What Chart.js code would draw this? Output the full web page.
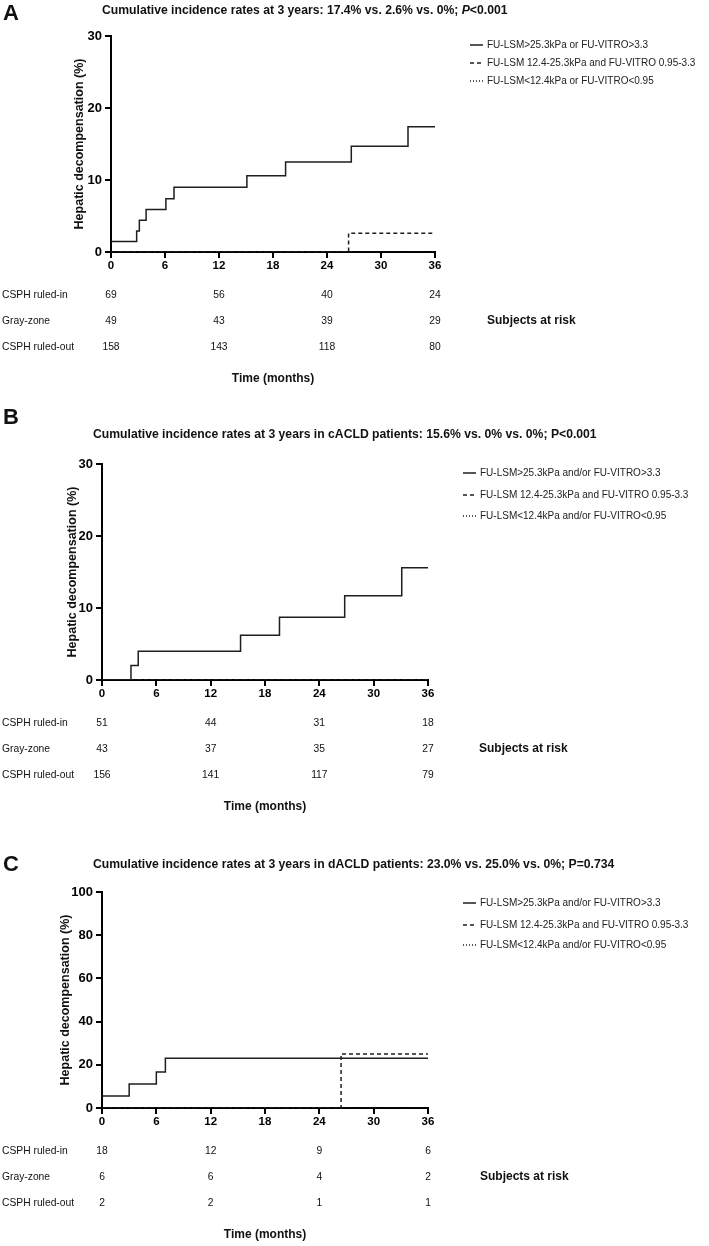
<!DOCTYPE html>
<html><head><meta charset="utf-8">
<script src="https://cdn.jsdelivr.net/npm/chart.js@4.4.1/dist/chart.umd.min.js"></script>
<style>
html,body{margin:0;padding:0;background:#fff;}
#wrap{position:relative;width:709px;height:1246px;overflow:hidden;background:#fff;}
canvas{position:absolute;left:0;}
</style></head><body>
<div id="wrap">
<canvas id="cA" width="709" height="400" style="top:0px"></canvas>
<canvas id="cB" width="709" height="430" style="top:400px"></canvas>
<canvas id="cC" width="709" height="416" style="top:830px"></canvas>
</div>
<script>
// ---------- data ----------
const riskTimes = [0, 12, 24, 36];
const riskGroups = ['CSPH ruled-in', 'Gray-zone', 'CSPH ruled-out'];
const yAxisTitle = 'Hepatic decompensation (%)';

// Panel A
const legendA = ['FU-LSM>25.3kPa or FU-VITRO>3.3', 'FU-LSM 12.4-25.3kPa and FU-VITRO 0.95-3.3', 'FU-LSM<12.4kPa or FU-VITRO<0.95'];
const aHighT = [0, 2.85, 3.15, 3.9, 6.1, 7.0, 15.1, 19.4, 26.7, 33.0, 36];
const aHighV = [1.45, 2.9, 4.4, 5.9, 7.4, 9.0, 10.6, 12.5, 14.7, 17.4, 17.4];
const aGrayT = [0, 26.4, 36];
const aGrayV = [0, 2.6, 2.6];
const aLowT = [0, 36];
const aLowV = [0, 0];
const aRiskIn = [69, 56, 40, 24];
const aRiskGray = [49, 43, 39, 29];
const aRiskOut = [158, 143, 118, 80];

// Panel B
const legendBC = ['FU-LSM>25.3kPa and/or FU-VITRO>3.3', 'FU-LSM 12.4-25.3kPa and FU-VITRO 0.95-3.3', 'FU-LSM<12.4kPa and/or FU-VITRO<0.95'];
const bHighT = [0, 3.2, 4.0, 15.3, 19.6, 26.8, 33.1, 36];
const bHighV = [0, 2.0, 4.0, 6.2, 8.7, 11.7, 15.6, 15.6];
const bGrayT = [0, 36];
const bGrayV = [0, 0];
const bLowT = [0, 36];
const bLowV = [0, 0];
const bRiskIn = [51, 44, 31, 18];
const bRiskGray = [43, 37, 35, 27];
const bRiskOut = [156, 141, 117, 79];

// Panel C
const cHighT = [0, 3.0, 6.0, 7.0, 36];
const cHighV = [5.6, 11.1, 16.7, 23.0, 23.0];
const cGrayT = [0, 26.4, 36];
const cGrayV = [0, 25.0, 25.0];
const cLowT = [0, 36];
const cLowV = [0, 0];
const cRiskIn = [18, 12, 9, 6];
const cRiskGray = [6, 6, 4, 2];
const cRiskOut = [2, 2, 1, 1];

// ---------- helpers ----------
const FONT = '"Liberation Sans", Arial, Helvetica, sans-serif';
const LINE = '#1e1e1e';
function pts(t, v) { return t.map((x, i) => ({ x: x, y: v[i] })); }

const decor = {
  id: 'decor',
  afterDraw(chart, args, o) {
    const ctx = chart.ctx, ca = chart.chartArea, xs = chart.scales.x;
    ctx.save();
    ctx.fillStyle = '#111';
    ctx.textBaseline = 'middle';
    // panel letter
    ctx.textAlign = 'left';
    ctx.font = 'bold 22px ' + FONT;
    ctx.fillText(o.letter, 3, ca.top - o.letterDy);
    // title
    let x = ca.left - 9;
    const ty = ca.top - o.titleDy;
    for (const s of o.title) {
      ctx.font = (s.i ? 'italic ' : '') + 'bold 12.2px ' + FONT;
      ctx.fillText(s.t, x, ty);
      x += ctx.measureText(s.t).width;
    }
    // y axis title
    ctx.save();
    ctx.translate(ca.left - o.yTitleDx, (ca.top + ca.bottom) / 2);
    ctx.rotate(-Math.PI / 2);
    ctx.textAlign = 'center';
    ctx.font = 'bold 12.5px ' + FONT;
    ctx.fillText(yAxisTitle, 0, 0);
    ctx.restore();
    // legend
    chart.data.datasets.forEach((ds, i) => {
      const y = ca.top + o.legendDy[i];
      ctx.save();
      ctx.strokeStyle = ds.borderColor;
      ctx.lineWidth = 1.5;
      ctx.setLineDash(ds.borderDash || []);
      ctx.beginPath();
      ctx.moveTo(ca.right + o.legX, y);
      ctx.lineTo(ca.right + o.legX + 13, y);
      ctx.stroke();
      ctx.restore();
      ctx.textAlign = 'left';
      ctx.font = '10px ' + FONT;
      ctx.fillStyle = '#222';
      ctx.fillText(ds.label, ca.right + o.legX + 17, y);
    });
    // at-risk table
    ctx.fillStyle = '#111';
    ctx.font = '10.3px ' + FONT;
    o.risk.forEach((row, r) => {
      const y = ca.bottom + 43 + r * 26;
      ctx.textAlign = 'left';
      ctx.fillText(riskGroups[r], 2, y);
      ctx.textAlign = 'center';
      row.forEach((v, k) => ctx.fillText(String(v), xs.getPixelForValue(riskTimes[k]), y));
    });
    ctx.font = 'bold 12px ' + FONT;
    ctx.textAlign = 'left';
    ctx.fillText('Subjects at risk', ca.right + o.subX, ca.bottom + 69);
    ctx.textAlign = 'center';
    ctx.fillText('Time (months)', (ca.left + ca.right) / 2, ca.bottom + 127);
    ctx.restore();
  }
};

function makePanel(p) {
  const YW = 40, XH = 30, W = 709;
  const datasets = [
    { label: p.labels[0], data: pts(p.s[0][0], p.s[0][1]), borderDash: [] },
    { label: p.labels[1], data: pts(p.s[1][0], p.s[1][1]), borderDash: [4, 3] },
    { label: p.labels[2], data: pts(p.s[2][0], p.s[2][1]), borderDash: [1, 2] }
  ].map(d => Object.assign(d, {
    stepped: 'before', borderColor: LINE, borderWidth: 1.5, pointRadius: 0,
    pointHitRadius: 0, fill: false, tension: 0
  }));
  const axisCommon = {
    type: 'linear', z: 1,
    border: { display: true, color: '#000', width: 2 },
    grid: { display: true, drawOnChartArea: false, drawTicks: true, tickLength: 6, tickWidth: 2, tickColor: '#000', color: '#000', lineWidth: 2 },
  };
  new Chart(document.getElementById(p.id), {
    type: 'line',
    data: { datasets: datasets },
    plugins: [decor],
    options: {
      responsive: false, animation: false, devicePixelRatio: 1,
      layout: { padding: { left: p.plot.l - YW, right: W - p.plot.r, top: p.plot.t - p.top, bottom: p.h - (p.plot.b - p.top) - XH } },
      scales: {
        x: Object.assign({}, axisCommon, {
          min: 0, max: 36,
          ticks: { stepSize: 6, autoSkip: false, maxRotation: 0, padding: 1, color: '#000', font: { family: FONT, size: 11.5, weight: 'bold' } },
          afterFit(s) { s.height = XH; }
        }),
        y: Object.assign({}, axisCommon, {
          min: 0, max: p.yMax,
          ticks: { stepSize: p.yStep, padding: 3, color: '#000', font: { family: FONT, size: 13, weight: 'bold' } },
          afterFit(s) { s.width = YW; }
        })
      },
      plugins: {
        legend: { display: false },
        tooltip: { enabled: false },
        decor: p.decor
      }
    }
  });
}

makePanel({
  id: 'cA', top: 0, h: 400, plot: { l: 111, r: 435, t: 36, b: 252 }, yMax: 30, yStep: 10,
  labels: legendA,
  s: [[aHighT, aHighV], [aGrayT, aGrayV], [aLowT, aLowV]],
  decor: {
    letter: 'A', titleDy: 25, letterDy: 22, yTitleDx: 31, legX: 35, subX: 52, legendDy: [9, 27, 45],
    title: [{ t: 'Cumulative incidence rates at 3 years: 17.4% vs. 2.6% vs. 0%; ' }, { t: 'P', i: true }, { t: '<0.001' }],
    risk: [aRiskIn, aRiskGray, aRiskOut]
  }
});
makePanel({
  id: 'cB', top: 400, h: 430, plot: { l: 102, r: 428, t: 464, b: 680 }, yMax: 30, yStep: 10,
  labels: legendBC,
  s: [[bHighT, bHighV], [bGrayT, bGrayV], [bLowT, bLowV]],
  decor: {
    letter: 'B', titleDy: 29, letterDy: 46, yTitleDx: 29, legX: 35, subX: 51, legendDy: [9, 31, 52],
    title: [{ t: 'Cumulative incidence rates at 3 years in cACLD patients: 15.6% vs. 0% vs. 0%; P<0.001' }],
    risk: [bRiskIn, bRiskGray, bRiskOut]
  }
});
makePanel({
  id: 'cC', top: 830, h: 416, plot: { l: 102, r: 428, t: 892, b: 1108 }, yMax: 100, yStep: 20,
  labels: legendBC,
  s: [[cHighT, cHighV], [cGrayT, cGrayV], [cLowT, cLowV]],
  decor: {
    letter: 'C', titleDy: 27, letterDy: 27, yTitleDx: 36, legX: 35, subX: 52, legendDy: [11, 33, 53],
    title: [{ t: 'Cumulative incidence rates at 3 years in dACLD patients: 23.0% vs. 25.0% vs. 0%; P=0.734' }],
    risk: [cRiskIn, cRiskGray, cRiskOut]
  }
});
</script>
</body></html>
